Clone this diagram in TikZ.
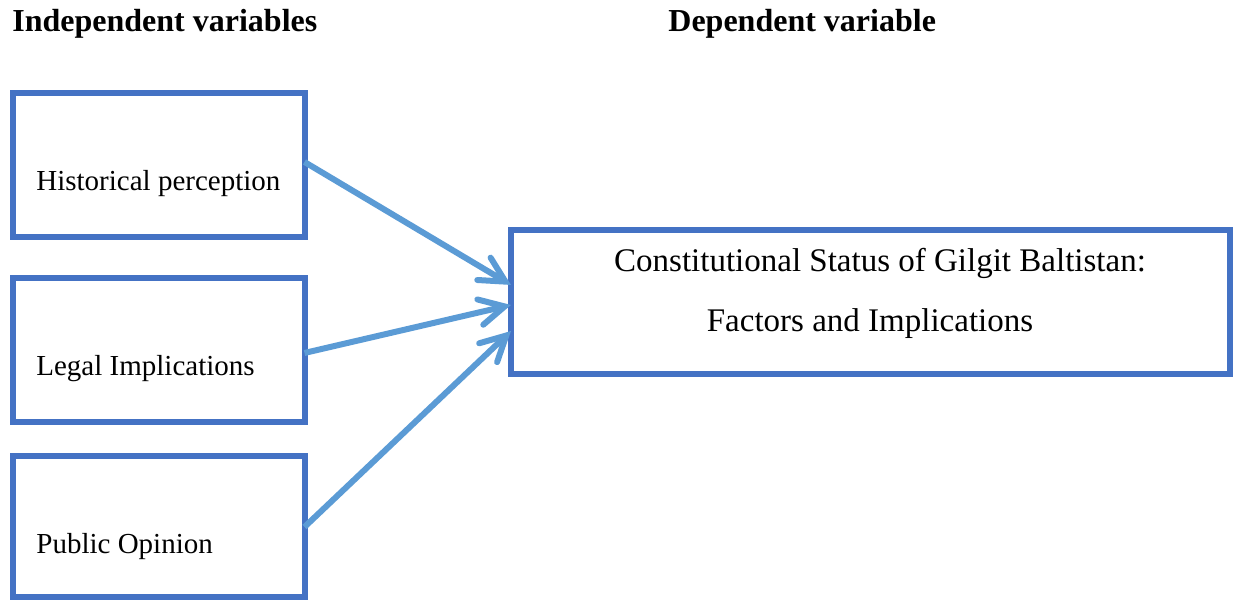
\documentclass[tikz,border=0pt]{standalone}
\usepackage{fontspec}
\setmainfont{Liberation Serif}
\usetikzlibrary{arrows.meta,calc}
\definecolor{boxblue}{HTML}{4472C4}
\definecolor{arrowblue}{HTML}{5B9BD5}
\begin{document}
\begin{tikzpicture}[x=0.5pt,y=-0.5pt,
  varbox/.style={draw=boxblue,line width=3pt,rectangle,inner sep=0pt,outer sep=0pt},
  lbl/.style={anchor=base west,inner sep=0pt,font=\fontsize{14.5}{17}\selectfont},
  dvlbl/.style={anchor=base,inner sep=0pt,font=\fontsize{16.5}{20}\selectfont},
  head/.style={anchor=base west,inner sep=0pt,font=\fontsize{16}{19}\selectfont\bfseries},
  conn/.style={draw=arrowblue,line width=3pt,-{Straight Barb[length=12.5pt,width=13pt,line cap=round]}}
]
\useasboundingbox (0,0) rectangle (1236,600);
% headers
\node[head] (hind) at (12,31.7) {Independent variables};
\node[head] (hdep) at (668,31.7) {Dependent variable};
% boxes
\node[varbox,minimum width=146pt,minimum height=72pt] (b1) at (158.5,165) {};
\node[varbox,minimum width=146pt,minimum height=72pt] (b2) at (158.5,349.5) {};
\node[varbox,minimum width=146pt,minimum height=70.75pt] (b3) at (158.5,526.25) {};
\node[varbox,minimum width=359.25pt,minimum height=72pt] (dv) at (870.25,301.5) {};
% labels
\node[lbl] (t1) at (36,190) {Historical perception};
\node[lbl] (t2) at (36,375) {Legal Implications};
\node[lbl] (t3) at (36,553) {Public Opinion};
\node[dvlbl] (d1) at (880,271.7) {Constitutional Status of Gilgit Baltistan:};
\node[dvlbl] (d2) at (870,331.7) {Factors and Implications};
% connectors
\draw[conn] ($(b1.north east)!0.479!(b1.south east)$) -- ($(dv.north west)!0.385!(dv.south west)$);
\draw[conn] ($(b2.north east)!0.524!(b2.south east)$) -- ($(dv.north west)!0.524!(dv.south west)$);
\draw[conn] ($(b3.north east)!0.505!(b3.south east)$) -- ($(dv.north west)!0.705!(dv.south west)$);
\end{tikzpicture}
\end{document}
